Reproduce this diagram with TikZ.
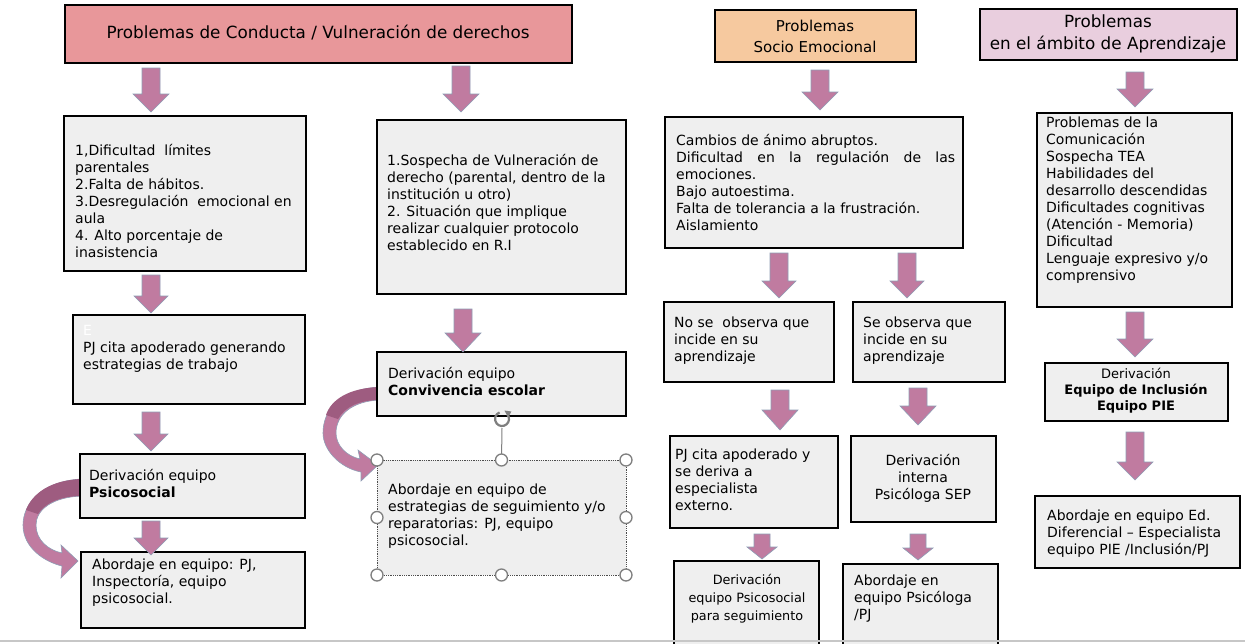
\documentclass[tikz,border=0pt]{standalone}
\usepackage{fontspec}
\setmainfont{DejaVu Sans}
\usetikzlibrary{arrows.meta}
\definecolor{pinkT}{HTML}{E8979A}
\definecolor{orangeT}{HTML}{F6C99F}
\definecolor{lilacT}{HTML}{E9CEDE}
\definecolor{boxfill}{HTML}{EFEFEF}
\definecolor{arrfill}{HTML}{C07BA0}
\definecolor{arrdraw}{HTML}{8E9DB5}
\definecolor{ribdark}{HTML}{9E5C80}
\definecolor{handlec}{HTML}{7F7F7F}
\newcommand{\fs}{\fontsize{14}{17}\selectfont}
\newcommand{\fsm}{\fontsize{12.8}{18}\selectfont}
\newcommand{\fsc}{\fontsize{13}{16}\selectfont}
\newcommand{\ftitleA}{\fontsize{16.8}{21}\selectfont}
\newcommand{\ftitleB}{\fontsize{15}{21}\selectfont}
\newcommand{\ftitleC}{\fontsize{16.8}{22}\selectfont}
\newcommand{\darr}[6]{\filldraw[blockarrow] ({#1-#4},#2) -- ({#1+#4},#2) -- ({#1+#4},{#3-#6}) -- ({#1+#5},{#3-#6}) -- (#1,#3) -- ({#1-#5},{#3-#6}) -- ({#1-#4},{#3-#6}) -- cycle;}
\newcommand{\bx}[6]{\node[#6, minimum width={#4-#2}, minimum height={#5-#3}] (#1) at ({(#2+#4)/2},{(#3+#5)/2}) {};}
\begin{document}
\begin{tikzpicture}[x=1pt,y=-1pt,
  box/.style={draw=black, line width=1.3pt, fill=boxfill, inner sep=0pt, outer sep=0pt},
  selbox/.style={draw=black!70, densely dotted, line width=0.8pt, fill=boxfill, inner sep=0pt, outer sep=0pt},
  txt/.style={inner sep=0pt, anchor=north west, align=left, font=\fs},
  ctxt/.style={inner sep=0pt, anchor=north, align=center, font=\fs},
  ttl/.style={inner sep=0pt, align=center},
  blockarrow/.style={fill=arrfill, draw=arrdraw, line width=0.6pt},
  ribbon/.style={fill=arrfill, draw=arrdraw, line width=0.6pt},
  handle/.style={circle, draw=handlec, fill=white, line width=1.3pt, minimum size=12pt, inner sep=0pt}]
\clip (0,0) rectangle (1245,643);
\fill[white] (0,0) rectangle (1245,643);

% curved ribbons (behind boxes)
\filldraw[ribbon] (82,479) .. controls (40,481) and (23,505) .. (23,525) .. controls (23,548) and (45,562) .. (62,566) -- (61,578) -- (78,561) -- (61,545) -- (62,553) .. controls (48,550) and (36,540) .. (36,525) .. controls (36,510) and (52,497) .. (82,496) -- cycle;
\fill[ribdark] (82,479) .. controls (50,480) and (32,494) .. (26,510) -- (38,514) .. controls (45,503) and (60,496) .. (82,496) -- cycle;
\filldraw[ribbon] (380,387) .. controls (340,389) and (323,410) .. (323,433) .. controls (323,450) and (340,468) .. (361,472) -- (361,481) -- (378,465) -- (358,450) -- (360,459) .. controls (346,456) and (336,445) .. (336,433) .. controls (336,415) and (352,401) .. (380,400) -- cycle;
\fill[ribdark] (380,387) .. controls (348,388) and (331,400) .. (326,415) -- (338,419) .. controls (345,407) and (358,400) .. (380,400) -- cycle;

% titles
\bx{t1}{65}{5}{572}{63}{box, fill=pinkT}
\node[ttl, font=\ftitleA] (t1t) at (318,33) {Problemas de Conducta / Vulneración de derechos};
\bx{t2}{715}{10}{916}{62}{box, fill=orangeT}
\node[ttl, font=\ftitleB] (t2t) at (815,36) {Problemas\\Socio Emocional};
\bx{t3}{980}{9}{1237}{60}{box, fill=lilacT}
\node[ttl, font=\ftitleC] (t3t) at (1108,34) {Problemas\\en el ámbito de Aprendizaje};

% first row boxes
\bx{b1}{64}{116}{306}{271}{box}
\node[txt] (b1t) at (75,144) {1,Dificultad\ \ límites\\parentales\\2.Falta de hábitos.\\3.Desregulación\ \ emocional en\\aula\\4. Alto porcentaje de\\inasistencia};
\bx{b2}{377}{120}{626}{294}{box}
\node[txt] (b2t) at (387,154) {1.Sospecha de Vulneración de\\derecho (parental, dentro de la\\institución u otro)\\2. Situación que implique\\realizar cualquier protocolo\\establecido en R.I};
\bx{b3}{665}{117}{963}{248}{box}
\node[txt] (b3t) at (676,134) {Cambios de ánimo abruptos.\\\hbox to 279pt{Dificultad\hfill en\hfill la\hfill regulación\hfill de\hfill las}\\emociones.\\Bajo autoestima.\\Falta de tolerancia a la frustración.\\Aislamiento};
\bx{b4}{1037}{113}{1232}{307}{box}
\node[txt] (b4t) at (1046,117) {Problemas de la\\Comunicación\\Sospecha TEA\\Habilidades del\\desarrollo descendidas\\Dificultades cognitivas\\(Atención - Memoria)\\Dificultad\\Lenguaje expresivo y/o\\comprensivo};

% second row
\bx{c1}{73}{315}{305}{404}{box}
\node[txt] (c1t) at (83,325) {{\color{white}E}\\PJ cita apoderado generando\\estrategias de trabajo};
\bx{c2}{377}{352}{626}{416}{box}
\node[txt] (c2t) at (388,367) {Derivación equipo\\\textbf{Convivencia escolar}};
\bx{c3l}{664}{302}{834}{382}{box}
\node[txt] (c3lt) at (674,317) {No se\ \ observa que\\incide en su\\aprendizaje};
\bx{c3r}{853}{302}{1005}{382}{box}
\node[txt] (c3rt) at (863,317) {Se observa que\\incide en su\\aprendizaje};
\bx{c4}{1045}{363}{1228}{421}{box}
\node[ctxt, font=\fsc] (c4t) at (1136,368) {Derivación\\\textbf{Equipo de Inclusión}\\\textbf{Equipo PIE}};

% third row
\bx{d1}{80}{454}{305}{518}{box}
\node[txt] (d1t) at (89,469) {Derivación equipo\\\textbf{Psicosocial}};
\bx{d2}{377}{460}{626}{575}{selbox}
\node[txt] (d2t) at (388,484) {Abordaje en equipo de\\estrategias de seguimiento y/o\\reparatorias: PJ, equipo\\psicosocial.};
\bx{d3l}{670}{436}{838}{528}{box}
\node[txt] (d3lt) at (675,449) {PJ cita apoderado y\\se deriva a\\especialista\\externo.};
\bx{d3r}{851}{436}{996}{522}{box}
\node[ctxt] (d3rt) at (923,454) {Derivación\\interna\\Psicóloga SEP};
\bx{d4}{1035}{496}{1240}{568}{box}
\node[txt] (d4t) at (1047,510) {Abordaje en equipo Ed.\\Diferencial – Especialista\\equipo PIE /Inclusión/PJ};

% fourth row
\bx{e1}{81}{552}{305}{628}{box}
\node[txt] (e1t) at (92,559) {Abordaje en equipo: PJ,\\Inspectoría, equipo\\psicosocial.};
\bx{e3l}{674}{561}{819}{660}{box}
\node[ctxt, font=\fsm] (e3lt) at (747,574) {Derivación\\equipo Psicosocial\\para seguimiento};
\bx{e3r}{843}{564}{998}{660}{box}
\node[txt] (e3rt) at (854,575) {Abordaje en\\equipo Psicóloga\\/PJ};

% block arrows
\darr{151}{68}{112}{9}{18}{18}
\darr{461}{66}{112}{9}{18}{18}
\darr{820}{70}{110}{9}{18}{18}
\darr{1135}{72}{107}{9}{18}{18}
\darr{151}{275}{313}{9}{17}{17}
\darr{463}{309}{352}{9}{18}{19}
\darr{779}{253}{298}{9}{17}{17}
\darr{907}{253}{298}{9}{17}{17}
\darr{1135}{312}{357}{9}{18}{18}
\darr{151}{412}{451}{9}{17}{17}
\darr{780}{390}{430}{9}{18}{20}
\darr{918}{388}{425}{9}{18}{19}
\darr{1135}{432}{480}{9}{18}{18}
\darr{151}{521}{555}{9}{17}{17}
\darr{762}{534}{559}{8}{15}{12}
\darr{918}{534}{560}{8}{15}{12}

% selection handles of d2
\coordinate (rot) at (502,419);
\draw[handlec, line width=1pt] (d2.north) -- (502,428);
\draw[handlec, line width=2.2pt] (rot) ++(-40:7) arc[start angle=-40, end angle=250, radius=7];
\fill[handlec] (rot) ++(-40:7) ++(-3,-4) -- ++(7,1) -- ++(-3,6) -- cycle;
\foreach \a/\n in {north west/h1, north/h2, north east/h3, west/h4, east/h5, south west/h6, south/h7, south east/h8}
  \node[handle] (\n) at (d2.\a) {};

% bottom separator
\draw[black!22, line width=1.5pt] (0,641) -- (1245,641);
\end{tikzpicture}
\end{document}
